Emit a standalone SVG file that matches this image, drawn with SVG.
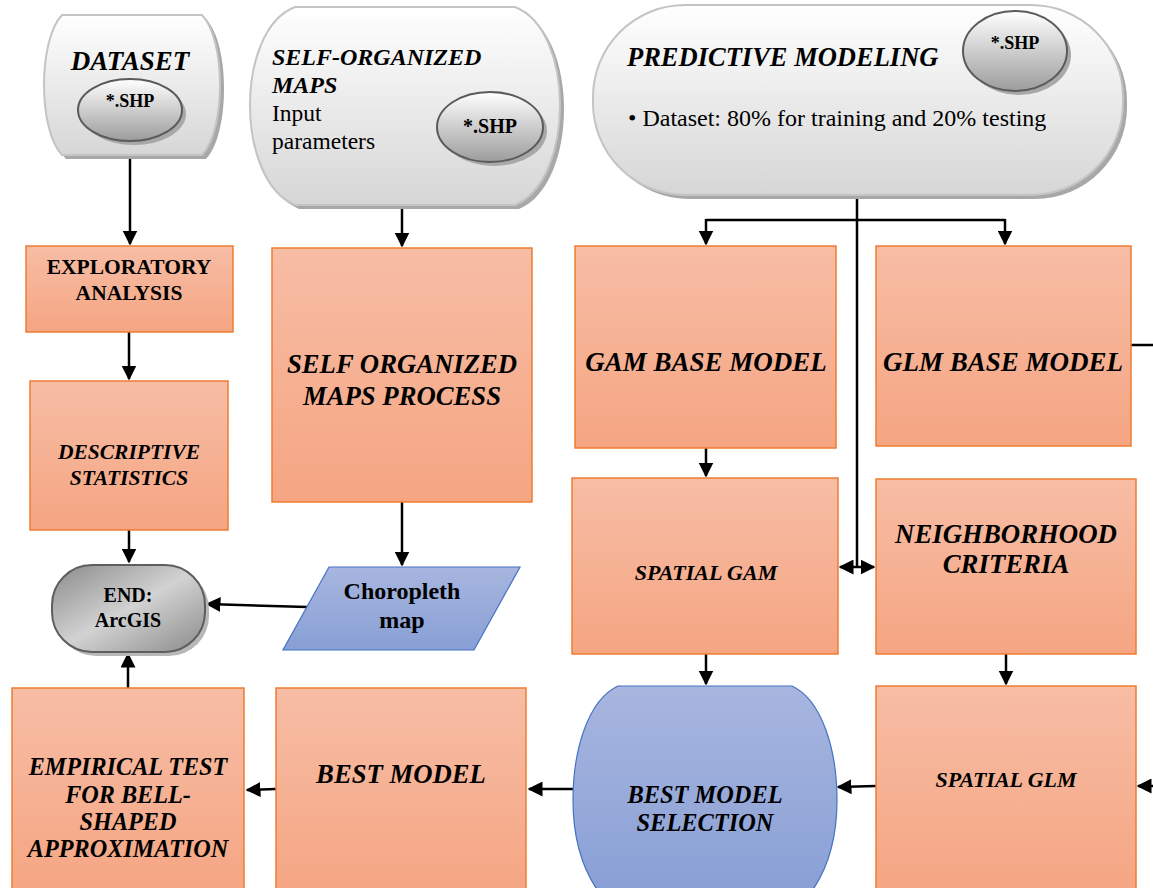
<svg xmlns="http://www.w3.org/2000/svg" width="1153" height="888" viewBox="0 0 1153 888">
<defs>
  <linearGradient id="gOrange" x1="0" y1="0" x2="0" y2="1">
    <stop offset="0" stop-color="#f7bda5"/>
    <stop offset="1" stop-color="#f5a582"/>
  </linearGradient>
  <linearGradient id="gBlue" x1="0" y1="0" x2="0" y2="1">
    <stop offset="0" stop-color="#a8b6df"/>
    <stop offset="1" stop-color="#889fd5"/>
  </linearGradient>
  <linearGradient id="gGray" x1="0" y1="0" x2="0" y2="1">
    <stop offset="0" stop-color="#ffffff"/>
    <stop offset="1" stop-color="#d6d6d6"/>
  </linearGradient>
  <linearGradient id="gEll" x1="0" y1="0" x2="0" y2="1">
    <stop offset="0" stop-color="#ffffff"/>
    <stop offset="1" stop-color="#9c9c9c"/>
  </linearGradient>
  <linearGradient id="gEnd" x1="0" y1="0" x2="1" y2="1">
    <stop offset="0" stop-color="#8a8a8a"/>
    <stop offset="0.5" stop-color="#d2d2d2"/>
    <stop offset="1" stop-color="#8a8a8a"/>
  </linearGradient>
  <marker id="ah" viewBox="0 0 10 10" refX="9" refY="5" markerWidth="6" markerHeight="6" markerUnits="strokeWidth" orient="auto">
    <path d="M0,0 L10,5 L0,10 Z" fill="#000"/>
  </marker>
</defs>
<style>
  .box { fill: url(#gOrange); stroke: #ed7d31; stroke-width: 1.5; }
  .blue { fill: url(#gBlue); stroke: #4472c4; stroke-width: 1.2; }
  .gray { fill: url(#gGray); stroke: #c4c4c4; stroke-width: 2; }
  .shadow { fill: #a8a8a8; }
  .ell { fill: url(#gEll); stroke: #5a5a5a; stroke-width: 2; }
  .t { font-family: "Liberation Serif", serif; fill: #000; text-anchor: middle; }
  .bi { font-weight: bold; font-style: italic; }
  .b { font-weight: bold; }
  .l { text-anchor: start; }
  .c { stroke: #000; stroke-width: 2.5; fill: none; }
</style>

<g id="connectors">
  <path class="c" d="M130,155 V244" marker-end="url(#ah)"/>
  <path class="c" d="M129,332 V379" marker-end="url(#ah)"/>
  <path class="c" d="M129,530 V562" marker-end="url(#ah)"/>
  <path class="c" d="M402,199 V246" marker-end="url(#ah)"/>
  <path class="c" d="M402,502 V565" marker-end="url(#ah)"/>
  <path class="c" d="M307,607 L207,604" marker-end="url(#ah)"/>
  <path class="c" d="M857,190 V567"/>
  <path class="c" d="M706,220 H1005"/>
  <path class="c" d="M706,219 V244" marker-end="url(#ah)"/>
  <path class="c" d="M1005,219 V244" marker-end="url(#ah)"/>
  <path class="c" d="M1131,345 H1153"/>
  <path class="c" d="M706,448 V476" marker-end="url(#ah)"/>
  <path class="c" d="M857,567 H840" marker-end="url(#ah)"/>
  <path class="c" d="M857,567 H874" marker-end="url(#ah)"/>
  <path class="c" d="M706,654 V684" marker-end="url(#ah)"/>
  <path class="c" d="M1006,654 V684" marker-end="url(#ah)"/>
  <path class="c" d="M1153,786 H1138" marker-end="url(#ah)"/>
  <path class="c" d="M876,786 L838,787" marker-end="url(#ah)"/>
  <path class="c" d="M573,789 H529" marker-end="url(#ah)"/>
  <path class="c" d="M276,789 L247,790" marker-end="url(#ah)"/>
  <path class="c" d="M128,688 V654" marker-end="url(#ah)"/>
</g>

<g id="dataset">
  <path class="shadow" d="M66,19 L206,19 C230,44 230,134 206,159 L66,159 C42,134 42,44 66,19 Z"/>
  <path class="gray" d="M62,15 L202,15 C226,40 226,130 202,155 L62,155 C38,130 38,40 62,15 Z"/>
  <text class="t bi" x="130" y="70" font-size="27">DATASET</text>
  <ellipse class="shadow" cx="134" cy="114" rx="52" ry="31"/>
  <ellipse class="ell" cx="130" cy="110" rx="52" ry="31"/>
  <text class="t b" x="130" y="107" font-size="18">*.SHP</text>
</g>

<g id="som">
  <path class="shadow" d="M299,11 L519,11 C579,34 579,184 519,209 L299,209 C239,184 239,34 299,11 Z"/>
  <path class="gray" d="M295,7 L515,7 C575,30 575,180 515,205 L295,205 C235,180 235,30 295,7 Z"/>
  <text class="t bi l" x="272" y="65" font-size="24">SELF-ORGANIZED</text>
  <text class="t bi l" x="272" y="93" font-size="24">MAPS</text>
  <text class="t l" x="272" y="121" font-size="23.5">Input</text>
  <text class="t l" x="272" y="149" font-size="23.5">parameters</text>
  <ellipse class="shadow" cx="494" cy="131" rx="53" ry="35"/>
  <ellipse class="ell" cx="490" cy="127" rx="53" ry="35"/>
  <text class="t b" x="490" y="133" font-size="20">*.SHP</text>
</g>

<g id="predictive">
  <rect class="shadow" x="597" y="9" width="530" height="190" rx="92" ry="92"/>
  <rect class="gray" x="593" y="5" width="530" height="190" rx="92" ry="92"/>
  <text class="t bi l" x="627" y="66" font-size="26.5">PREDICTIVE MODELING</text>
  <text class="t l" x="628" y="126" font-size="24">• Dataset: 80% for training and 20% testing</text>
  <ellipse class="shadow" cx="1019" cy="55" rx="52" ry="40"/>
  <ellipse class="ell" cx="1015" cy="51" rx="52" ry="40"/>
  <text class="t b" x="1015" y="49" font-size="18">*.SHP</text>
</g>

<g id="exploratory">
  <rect class="box" x="26" y="246" width="207" height="86"/>
  <text class="t b" x="129" y="274" font-size="21.5">EXPLORATORY</text>
  <text class="t b" x="129" y="300" font-size="21.5">ANALYSIS</text>
</g>

<g id="descriptive">
  <rect class="box" x="30" y="381" width="198" height="149"/>
  <text class="t bi" x="129" y="459" font-size="21.5">DESCRIPTIVE</text>
  <text class="t bi" x="129" y="485" font-size="21.5">STATISTICS</text>
</g>

<g id="end">
  <rect x="56" y="569" width="153" height="87" rx="40" ry="40" fill="#b8b8b8"/>
  <rect x="52" y="565" width="153" height="87" rx="40" ry="40" fill="url(#gEnd)" stroke="#5e5e5e" stroke-width="2"/>
  <text class="t b" x="128" y="602" font-size="20">END:</text>
  <text class="t b" x="128" y="627" font-size="20">ArcGIS</text>
</g>

<g id="som-process">
  <rect class="box" x="272" y="248" width="260" height="254"/>
  <text class="t bi" x="402" y="373" font-size="26.7">SELF ORGANIZED</text>
  <text class="t bi" x="402" y="405" font-size="26.7">MAPS PROCESS</text>
</g>

<g id="choropleth">
  <polygon class="blue" points="329,567 520,567 474,650 283,650"/>
  <text class="t b" x="402" y="599" font-size="24">Choropleth</text>
  <text class="t b" x="402" y="628" font-size="24">map</text>
</g>

<g id="gam-base">
  <rect class="box" x="575" y="246" width="261" height="202"/>
  <text class="t bi" x="706" y="371" font-size="27">GAM BASE MODEL</text>
</g>

<g id="glm-base">
  <rect class="box" x="876" y="246" width="255" height="200"/>
  <text class="t bi" x="1003" y="371" font-size="27">GLM BASE MODEL</text>
</g>

<g id="spatial-gam">
  <rect class="box" x="572" y="478" width="266" height="176"/>
  <text class="t bi" x="706" y="580" font-size="22">SPATIAL GAM</text>
</g>

<g id="neighborhood">
  <rect class="box" x="876" y="479" width="260" height="175"/>
  <text class="t bi" x="1006" y="543" font-size="26.8">NEIGHBORHOOD</text>
  <text class="t bi" x="1006" y="573" font-size="26.8">CRITERIA</text>
</g>

<g id="spatial-glm">
  <rect class="box" x="876" y="686" width="260" height="210"/>
  <text class="t bi" x="1006" y="787" font-size="22">SPATIAL GLM</text>
</g>

<g id="best-model-selection">
  <path class="blue" d="M618,686 L792,686 C822,700 837,750 837,800 C837,850 822,880 805,900 L605,900 C588,880 573,850 573,800 C573,750 588,700 618,686 Z"/>
  <text class="t bi" x="705" y="803" font-size="24.4">BEST MODEL</text>
  <text class="t bi" x="705" y="831" font-size="24.4">SELECTION</text>
</g>

<g id="best-model">
  <rect class="box" x="276" y="688" width="250" height="210"/>
  <text class="t bi" x="401" y="783" font-size="26.7">BEST MODEL</text>
</g>

<g id="empirical">
  <rect class="box" x="12" y="688" width="232" height="210"/>
  <text class="t bi" x="128" y="775" font-size="24.2">EMPIRICAL TEST</text>
  <text class="t bi" x="128" y="803" font-size="24.2">FOR BELL-</text>
  <text class="t bi" x="128" y="830" font-size="24.2">SHAPED</text>
  <text class="t bi" x="128" y="857" font-size="24.2">APPROXIMATION</text>
</g>
</svg>
